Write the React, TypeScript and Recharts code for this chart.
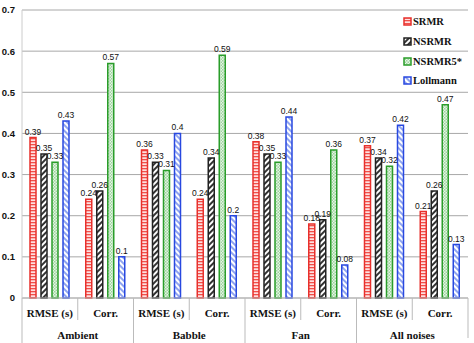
import React from 'react';
import { BarChart, Bar, XAxis, YAxis, CartesianGrid, LabelList } from 'recharts';

const subCategories = ['RMSE (s)', 'Corr.', 'RMSE (s)', 'Corr.', 'RMSE (s)', 'Corr.', 'RMSE (s)', 'Corr.'];
const groups = ['Ambient', 'Ambient', 'Babble', 'Babble', 'Fan', 'Fan', 'All noises', 'All noises'];
const srmr = [0.39, 0.24, 0.36, 0.24, 0.38, 0.18, 0.37, 0.21];
const nsrmr = [0.35, 0.26, 0.33, 0.34, 0.35, 0.19, 0.34, 0.26];
const nsrmr5 = [0.33, 0.57, 0.31, 0.59, 0.33, 0.36, 0.32, 0.47];
const lollmann = [0.43, 0.1, 0.4, 0.2, 0.44, 0.08, 0.42, 0.13];
const yTicks = [0, 0.1, 0.2, 0.3, 0.4, 0.5, 0.6, 0.7];

const data = subCategories.map((s, i) => ({
  sub: s,
  group: groups[i],
  SRMR: srmr[i],
  NSRMR: nsrmr[i],
  NSRMR5: nsrmr5[i],
  Lollmann: lollmann[i],
}));

const series = [
  { key: 'SRMR', name: 'SRMR', stroke: '#e8302c', fill: 'url(#patRed)' },
  { key: 'NSRMR', name: 'NSRMR', stroke: '#222222', fill: 'url(#patBlack)' },
  { key: 'NSRMR5', name: 'NSRMR5*', stroke: '#2a9d2a', fill: 'url(#patGreen)' },
  { key: 'Lollmann', name: 'Lollmann', stroke: '#2848e0', fill: 'url(#patBlue)' },
];

const W = 474;
const H = 343;
const M = { top: 10, right: 6, left: 0, bottom: 0 };
const Y_W = 22;
const X_H = 45;
const BAND = (W - M.left - M.right - Y_W) / data.length;
const serif = '"Liberation Serif", "Times New Roman", serif';
const sans = '"Liberation Sans", Arial, sans-serif';

const XTick = (props: any) => {
  const { x, y, payload, index } = props;
  const half = BAND / 2;
  const yy = y;
  return (
    <g>
      <text x={x} y={yy + 19} textAnchor="middle" fontFamily={serif} fontWeight="bold" fontSize={11} fill="#111">
        {payload.value}
      </text>
      <line x1={x - half} x2={x - half} y1={yy} y2={index % 2 === 0 ? yy + 45 : yy + 22} stroke="#bbbbbb" strokeWidth={1} />
      {index % 2 === 1 && (
        <text x={x - half} y={yy + 41} textAnchor="middle" fontFamily={serif} fontWeight="bold" fontSize={11} fill="#111">
          {data[index].group}
        </text>
      )}
      {index === data.length - 1 && (
        <line x1={x + half} x2={x + half} y1={yy} y2={yy + 40} stroke="#bbbbbb" strokeWidth={1} />
      )}
    </g>
  );
};

const LegendBox = () => (
  <div style={{ position: 'absolute', left: 403, top: 12, width: 70 }}>
    {series.map((s) => (
      <div key={s.key} style={{ display: 'flex', alignItems: 'center', height: 19.7, fontFamily: serif, fontWeight: 'bold', fontSize: 10.5, color: '#111' }}>
        <svg width={9} height={9} style={{ marginRight: 1 }}>
          <rect x={1} y={1} width={7} height={7} fill={s.fill} stroke={s.stroke} strokeWidth={1.5} />
        </svg>
        <span>{s.name}</span>
      </div>
    ))}
  </div>
);

export default function App() {
  return (
    <div style={{ position: 'absolute', left: 0, top: 0, width: W, height: H, background: '#fff' }}>
      <svg width={0} height={0} style={{ position: 'absolute' }}>
        <defs>
          <pattern id="patRed" width={4} height={3} patternUnits="userSpaceOnUse">
            <rect width={4} height={3} fill="#ffe0e0" />
            <rect y={0} width={4} height={1.3} fill="#f0504a" />
          </pattern>
          <pattern id="patBlack" width={4} height={4} patternUnits="userSpaceOnUse" patternTransform="rotate(45)">
            <rect width={4} height={4} fill="#ffffff" />
            <rect width={2} height={4} fill="#333333" />
          </pattern>
          <pattern id="patGreen" width={3} height={3} patternUnits="userSpaceOnUse">
            <rect width={3} height={3} fill="#e6f5e6" />
            <rect width={1.5} height={1.5} fill="#9fd49f" />
            <rect x={1.5} y={1.5} width={1.5} height={1.5} fill="#9fd49f" />
          </pattern>
          <pattern id="patBlue" width={4} height={4} patternUnits="userSpaceOnUse" patternTransform="rotate(-45)">
            <rect width={4} height={4} fill="#ffffff" />
            <rect width={2} height={4} fill="#8fa4f0" />
          </pattern>
        </defs>
      </svg>
      <BarChart width={W} height={H} data={data} margin={M} barGap={5} barSize={6}>
        <CartesianGrid vertical={false} stroke="#a8a8a8" strokeWidth={1} />
        <XAxis
          dataKey="sub"
          height={X_H}
          interval={0}
          tickLine={false}
          tickSize={0}
          tickMargin={0}
          axisLine={{ stroke: '#bbbbbb' }}
          tick={<XTick />}
        />
        <YAxis
          width={Y_W}
          domain={[0, 0.7]}
          ticks={yTicks}
          tickLine={false}
          tickSize={0}
          tickMargin={7}
          axisLine={{ stroke: '#cccccc' }}
          tick={{ fontFamily: sans, fontWeight: 'bold', fontSize: 9.5, fill: '#111' }}
        />
        {series.map((s) => (
          <Bar key={s.key} dataKey={s.key} name={s.name} fill={s.fill} stroke={s.stroke} strokeWidth={1.5} isAnimationActive={false}>
            <LabelList dataKey={s.key} position="top" offset={3} fontFamily={sans} fontSize={8.5} fill="#111" />
          </Bar>
        ))}
      </BarChart>
      <LegendBox />
    </div>
  );
}
